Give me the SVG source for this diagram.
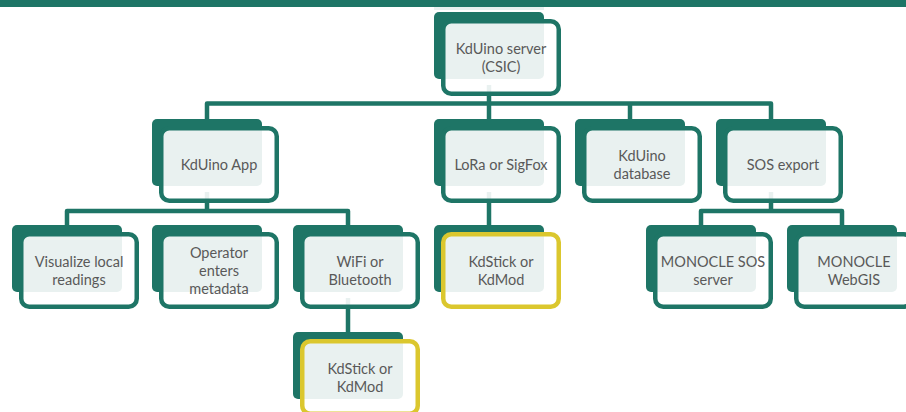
<svg xmlns="http://www.w3.org/2000/svg" width="906" height="412" viewBox="0 0 906 412">
<style>
.back{fill:#1E7566}
.front{fill:#FFFFFF;fill-opacity:0.9;stroke:#1E7566;stroke-width:4.5}
.front.y{stroke:#DBC72E}
.conn{fill:none;stroke:#1E7566;stroke-width:4.5;stroke-linejoin:round;stroke-linecap:butt}
text{font-family:Lato,"Liberation Sans",sans-serif;font-size:14.5px;fill:#595959;text-anchor:middle}
</style>
<rect x="0" y="0" width="906" height="7" fill="#1E7566"/>
<rect x="434" y="7" width="110" height="3" fill="#E8F1F0"/>
<g id="connectors">
<path class="conn" d="M207,119 V103.5 H771 V119"/>
<path class="conn" d="M489,85 V119"/>
<path class="conn" d="M630,103.5 V119"/>
<path class="conn" d="M67,225 V211 H348 V225"/>
<path class="conn" d="M207,192 V211"/>
<path class="conn" d="M489,192 V225"/>
<path class="conn" d="M701,225 V211 H842 V225"/>
<path class="conn" d="M771,192 V211"/>
<path class="conn" d="M348,298 V332"/>
</g>
<g id="n-server">
<rect class="back" x="434" y="12" width="110" height="67" rx="5"/>
<rect class="front" x="443.25" y="21.25" width="115.5" height="72.5" rx="8"/>
<text x="501" y="53.5">KdUino server</text>
<text x="501" y="71.5">(CSIC)</text>
</g>
<g id="n-app">
<rect class="back" x="152" y="119" width="110" height="67" rx="5"/>
<rect class="front" x="161.25" y="128.25" width="115.5" height="72.5" rx="8"/>
<text x="219" y="169.5">KdUino App</text>
</g>
<g id="n-lora">
<rect class="back" x="434" y="119" width="110" height="67" rx="5"/>
<rect class="front" x="443.25" y="128.25" width="115.5" height="72.5" rx="8"/>
<text x="501" y="169.5">LoRa or SigFox</text>
</g>
<g id="n-db">
<rect class="back" x="575" y="119" width="110" height="67" rx="5"/>
<rect class="front" x="584.25" y="128.25" width="115.5" height="72.5" rx="8"/>
<text x="642" y="160.5">KdUino</text>
<text x="642" y="178.5">database</text>
</g>
<g id="n-sos">
<rect class="back" x="716" y="119" width="110" height="67" rx="5"/>
<rect class="front" x="725.25" y="128.25" width="115.5" height="72.5" rx="8"/>
<text x="783" y="169.5">SOS export</text>
</g>
<g id="n-vis">
<rect class="back" x="12" y="225" width="110" height="67" rx="5"/>
<rect class="front" x="21.25" y="234.25" width="115.5" height="72.5" rx="8"/>
<text x="79" y="266.5">Visualize local</text>
<text x="79" y="284.5">readings</text>
</g>
<g id="n-op">
<rect class="back" x="152" y="225" width="110" height="67" rx="5"/>
<rect class="front" x="161.25" y="234.25" width="115.5" height="72.5" rx="8"/>
<text x="219" y="257.5">Operator</text>
<text x="219" y="275.5">enters</text>
<text x="219" y="293.5">metadata</text>
</g>
<g id="n-wifi">
<rect class="back" x="293" y="225" width="110" height="67" rx="5"/>
<rect class="front" x="302.25" y="234.25" width="115.5" height="72.5" rx="8"/>
<text x="360" y="266.5">WiFi or</text>
<text x="360" y="284.5">Bluetooth</text>
</g>
<g id="n-kdstick1">
<rect class="back" x="434" y="225" width="110" height="67" rx="5"/>
<rect class="front y" x="443.25" y="234.25" width="115.5" height="72.5" rx="8"/>
<text x="501" y="266.5">KdStick or</text>
<text x="501" y="284.5">KdMod</text>
</g>
<g id="n-msos">
<rect class="back" x="646" y="225" width="110" height="67" rx="5"/>
<rect class="front" x="655.25" y="234.25" width="115.5" height="72.5" rx="8"/>
<text x="713" y="266.5">MONOCLE SOS</text>
<text x="713" y="284.5">server</text>
</g>
<g id="n-webgis">
<rect class="back" x="787" y="225" width="110" height="67" rx="5"/>
<rect class="front" x="796.25" y="234.25" width="115.5" height="72.5" rx="8"/>
<text x="854" y="266.5">MONOCLE</text>
<text x="854" y="284.5">WebGIS</text>
</g>
<g id="n-kdstick2">
<rect class="back" x="293" y="332" width="110" height="67" rx="5"/>
<rect class="front y" x="302.25" y="341.25" width="115.5" height="72.5" rx="8"/>
<text x="360" y="373.5">KdStick or</text>
<text x="360" y="391.5">KdMod</text>
</g>
</svg>
